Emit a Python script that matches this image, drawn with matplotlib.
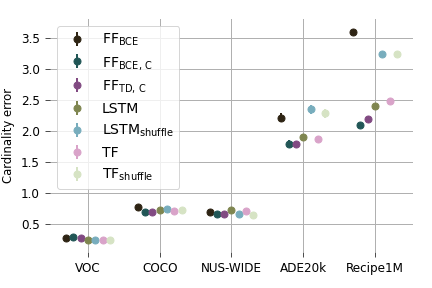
import matplotlib
matplotlib.use("Agg")
import matplotlib.pyplot as plt
import numpy as np

categories = ["VOC", "COCO", "NUS-WIDE", "ADE20k", "Recipe1M"]
models = [r"FF$_{\mathrm{BCE}}$", r"FF$_{\mathrm{BCE,\,C}}$", r"FF$_{\mathrm{TD,\,C}}$",
          "LSTM", r"LSTM$_{\mathrm{shuffle}}$", "TF", r"TF$_{\mathrm{shuffle}}$"]

# rows: models, cols: datasets
values = {
    "FF_BCE":       [0.27, 0.77, 0.69, 2.22, 3.60],
    "FF_BCE_C":     [0.285, 0.69, 0.66, 1.80, 2.10],
    "FF_TD_C":      [0.27, 0.69, 0.67, 1.80, 2.19],
    "LSTM":         [0.24, 0.72, 0.72, 1.90, 2.41],
    "LSTM_shuffle": [0.24, 0.74, 0.67, 2.35, 3.25],
    "TF":           [0.25, 0.705, 0.705, 1.87, 2.48],
    "TF_shuffle":   [0.24, 0.72, 0.655, 2.29, 3.25],
}
errors = {
    "FF_BCE":       [0.01, 0.01, 0.01, 0.075, 0.01],
    "FF_BCE_C":     [0.01, 0.01, 0.01, 0.05, 0.01],
    "FF_TD_C":      [0.01, 0.01, 0.01, 0.04, 0.01],
    "LSTM":         [0.01, 0.01, 0.01, 0.06, 0.01],
    "LSTM_shuffle": [0.01, 0.01, 0.01, 0.07, 0.01],
    "TF":           [0.01, 0.01, 0.01, 0.05, 0.01],
    "TF_shuffle":   [0.01, 0.01, 0.01, 0.07, 0.01],
}

colors = ["#2e2414", "#215656", "#814a82", "#7f8650", "#78adbd", "#d9a3c9", "#d6e3c4"]

plt.rcParams['font.family'] = ['DejaVu Sans']

fig, ax = plt.subplots(figsize=(6, 4), dpi=72)
x = np.arange(len(categories))
for i, (key, lab) in enumerate(zip(values.keys(), models)):
    off = (i - 3) * 0.102
    ax.errorbar(x + off, values[key], yerr=errors[key], fmt='o', color=colors[i],
                markersize=7, elinewidth=2, capsize=0, label=lab)

ax.set_xticks(x)
ax.set_xticklabels(categories, fontsize=12)
ax.tick_params(axis='both', labelsize=12, length=5, pad=5, color='#222222')
ax.set_ylabel("Cardinality error", fontsize=11.6, labelpad=6)
ax.set_yticks([0.5, 1.0, 1.5, 2.0, 2.5, 3.0, 3.5])
ax.set_xlim(-0.53, 4.53)
ax.set_ylim(0.05, 3.81)
ax.grid(True, color='#b0b0b0', linewidth=1)
ax.set_axisbelow(True)
for s in ax.spines.values():
    s.set_visible(False)
ax.legend(loc='upper left', fontsize=14, labelspacing=0.48)
fig.subplots_adjust(left=0.1157, right=0.956, top=0.934, bottom=0.125)
fig.savefig("out.png", dpi=72)
